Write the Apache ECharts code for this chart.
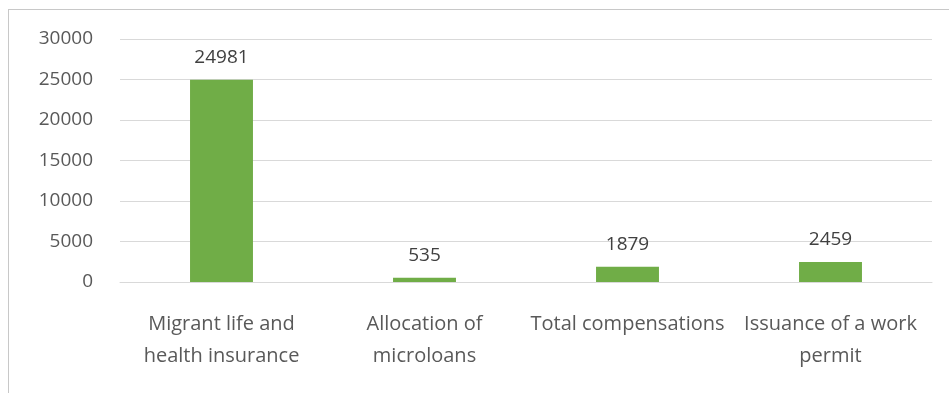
<!DOCTYPE html>
<html>
<head>
<meta charset="utf-8">
<style>
  html, body { margin: 0; padding: 0; background: #ffffff; }
  #frame { position: absolute; left: 8px; top: 9px; width: 941px; height: 384px;
           border-left: 1px solid #c8c8c8; border-top: 1px solid #c8c8c8; box-sizing: border-box; }
  #chart { position: absolute; left: 0; top: 0; width: 949px; height: 393px; }
</style>
<script src="https://cdn.jsdelivr.net/npm/echarts@6/dist/echarts.min.js"></script>
</head>
<body>
<div id="frame"></div>
<div id="chart"></div>
<script>
// Service categories and number of beneficiaries
const categories = [
  'Migrant life and\nhealth insurance',
  'Allocation of\nmicroloans',
  'Total compensations',
  'Issuance of a work\npermit'
];
const beneficiaries = [24981, 535, 1879, 2459];
const yTicks = { min: 0, max: 30000, interval: 5000 };

const FONT = 'Open Sans';
const chart = echarts.init(document.getElementById('chart'), null, { renderer: 'canvas' });
chart.setOption({
  animation: false,
  backgroundColor: 'transparent',
  grid: { left: 120, right: 17, top: 39, bottom: 111, containLabel: false },
  xAxis: {
    type: 'category',
    data: categories,
    axisLine: { show: true, lineStyle: { color: '#d9d9d9', width: 1 } },
    axisTick: { show: false },
    axisLabel: {
      color: '#595959', fontFamily: FONT, fontSize: 20, lineHeight: 32,
      margin: 26, interval: 0
    }
  },
  yAxis: {
    type: 'value',
    min: yTicks.min, max: yTicks.max, interval: yTicks.interval,
    axisLine: { show: false },
    axisTick: { show: false },
    splitLine: { lineStyle: { color: '#d9d9d9', width: 1 } },
    axisLabel: {
      color: '#595959', fontFamily: FONT, fontSize: 19, margin: 27,
      formatter: (v) => String(v)
    }
  },
  series: [{
    type: 'bar',
    data: beneficiaries,
    barWidth: '31%',
    itemStyle: { color: '#70ad47' },
    label: {
      show: true, position: 'top', distance: 13,
      color: '#404040', fontFamily: FONT, fontSize: 19
    }
  }]
});
</script>
</body>
</html>
